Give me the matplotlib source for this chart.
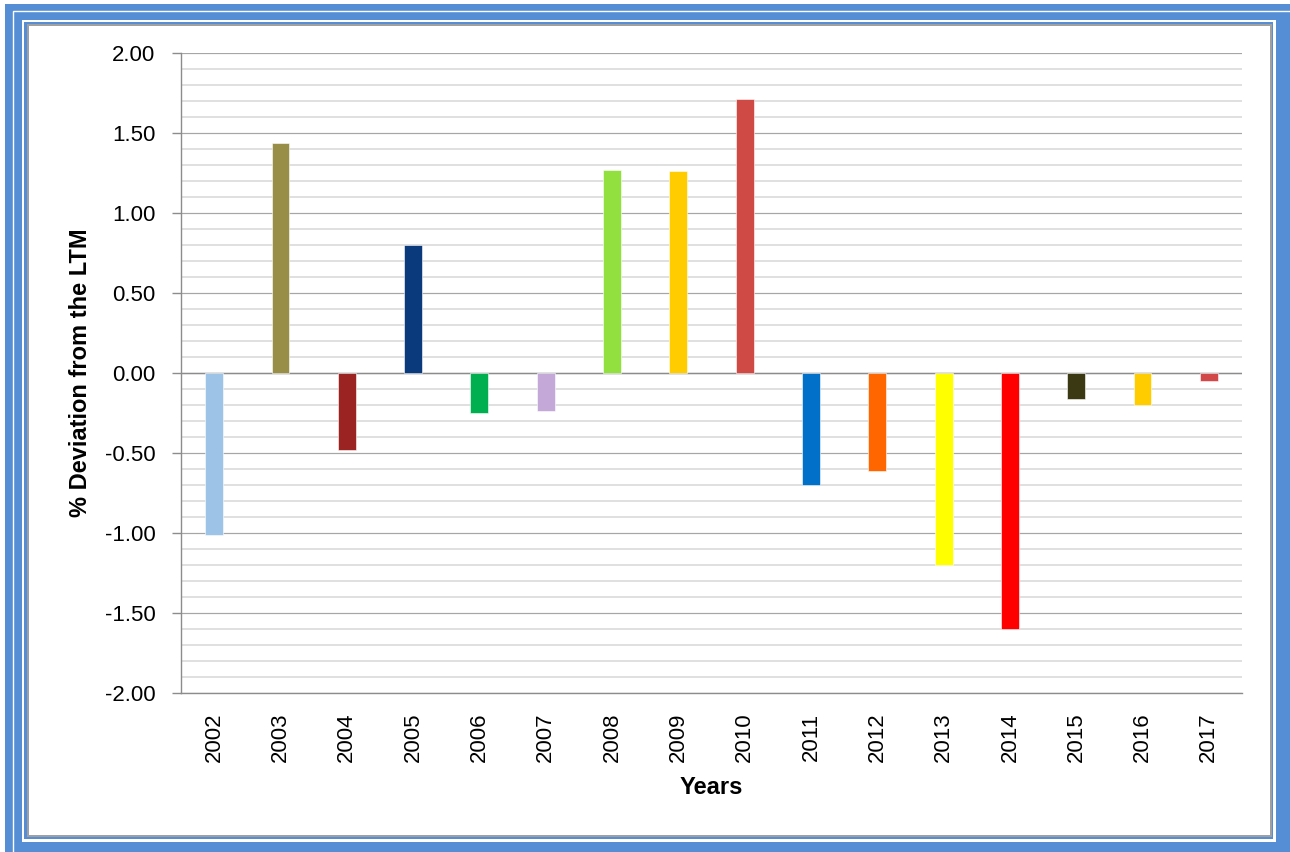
import matplotlib
matplotlib.use("Agg")
import matplotlib.pyplot as plt
from matplotlib.patches import Rectangle
from matplotlib.ticker import MultipleLocator

years = ["2002", "2003", "2004", "2005", "2006", "2007", "2008", "2009",
         "2010", "2011", "2012", "2013", "2014", "2015", "2016", "2017"]
deviation = [-1.01, 1.44, -0.48, 0.80, -0.25, -0.24, 1.27, 1.26,
             1.71, -0.70, -0.61, -1.20, -1.60, -0.16, -0.20, -0.05]
bar_colors = ["#9DC3E6", "#998E48", "#9B2423", "#0A3A7B", "#00B050", "#C3A8D8",
              "#92E040", "#FFCC00", "#D04A45", "#0070C9", "#FF6600", "#FFFF00",
              "#FF0000", "#3B3914", "#FFCC00", "#D24747"]
y_ticks = [-2.0, -1.5, -1.0, -0.5, 0.0, 0.5, 1.0, 1.5, 2.0]

plt.rcParams["font.family"] = ["Liberation Sans", "DejaVu Sans"]

W, H = 1290, 852
fig = plt.figure(figsize=(W / 100, H / 100), dpi=100)

PT = 72 / 100  # points per pixel


def frame_rect(x0, y0, x1, y1, **kw):
    """Rectangle given in pixel coordinates measured from the top-left."""
    r = Rectangle((x0 / W, 1 - y1 / H), (x1 - x0) / W, (y1 - y0) / H,
                  transform=fig.transFigure, **kw)
    fig.patches.append(r)
    return r


BLUE = "#558ED5"
# blue double frame around the chart
frame_rect(5, 4, 3000, 3000, facecolor=BLUE, edgecolor="none")
frame_rect(12.5, 10.5, 3000, 3000, facecolor="none", edgecolor="white", linewidth=1.4 * PT)
frame_rect(22, 20, 1276, 842, facecolor="white", edgecolor="none")
frame_rect(24, 22, 1272.5, 839, facecolor=BLUE, edgecolor="none")
frame_rect(28, 25, 1271, 836, facecolor="white", edgecolor="#A0A0A0", linewidth=2 * PT)

ax = fig.add_axes([181 / W, 1 - 693 / H, (1242 - 181) / W, (693 - 53) / H])
ax.set_zorder(2)
ax.patch.set_visible(False)

x = list(range(len(years)))
ax.bar(x, deviation, width=0.27, color=bar_colors, edgecolor="white",
       linewidth=0.4, zorder=3)

ax.set_xlim(-0.5, len(years) - 0.5)
ax.set_ylim(-2.0, 2.0)
ax.set_yticks(y_ticks)
ax.set_yticklabels([f"{v:.2f}" for v in y_ticks])
ax.yaxis.set_minor_locator(MultipleLocator(0.1))
ax.set_xticks(x)
ax.set_xticklabels(years, rotation=90)

ax.grid(axis="y", which="minor", color="#D9D9D9", linewidth=1.6 * PT, zorder=0)
ax.grid(axis="y", which="major", color="#A6A6A6", linewidth=1.2 * PT, zorder=1)
ax.axhline(0, color="#8C8C8C", linewidth=1.4 * PT, zorder=2)

for side in ("top", "right"):
    ax.spines[side].set_visible(False)
ax.spines["left"].set_color("#8C8C8C")
ax.spines["left"].set_linewidth(1.4 * PT)
ax.spines["bottom"].set_color("#8C8C8C")
ax.spines["bottom"].set_linewidth(1.4 * PT)

ax.tick_params(axis="y", which="major", length=9 * PT, width=1.4 * PT,
               color="#8C8C8C", pad=12, labelsize=16, labelcolor="#000000")
ax.tick_params(axis="y", which="minor", length=0)
ax.tick_params(axis="x", length=0, pad=14, labelsize=16)

ax.set_ylabel("% Deviation from the LTM", fontsize=17, fontweight="bold", labelpad=9)
ax.set_xlabel("Years", fontsize=17, fontweight="bold", labelpad=10)

fig.savefig("out.png", dpi=100)
